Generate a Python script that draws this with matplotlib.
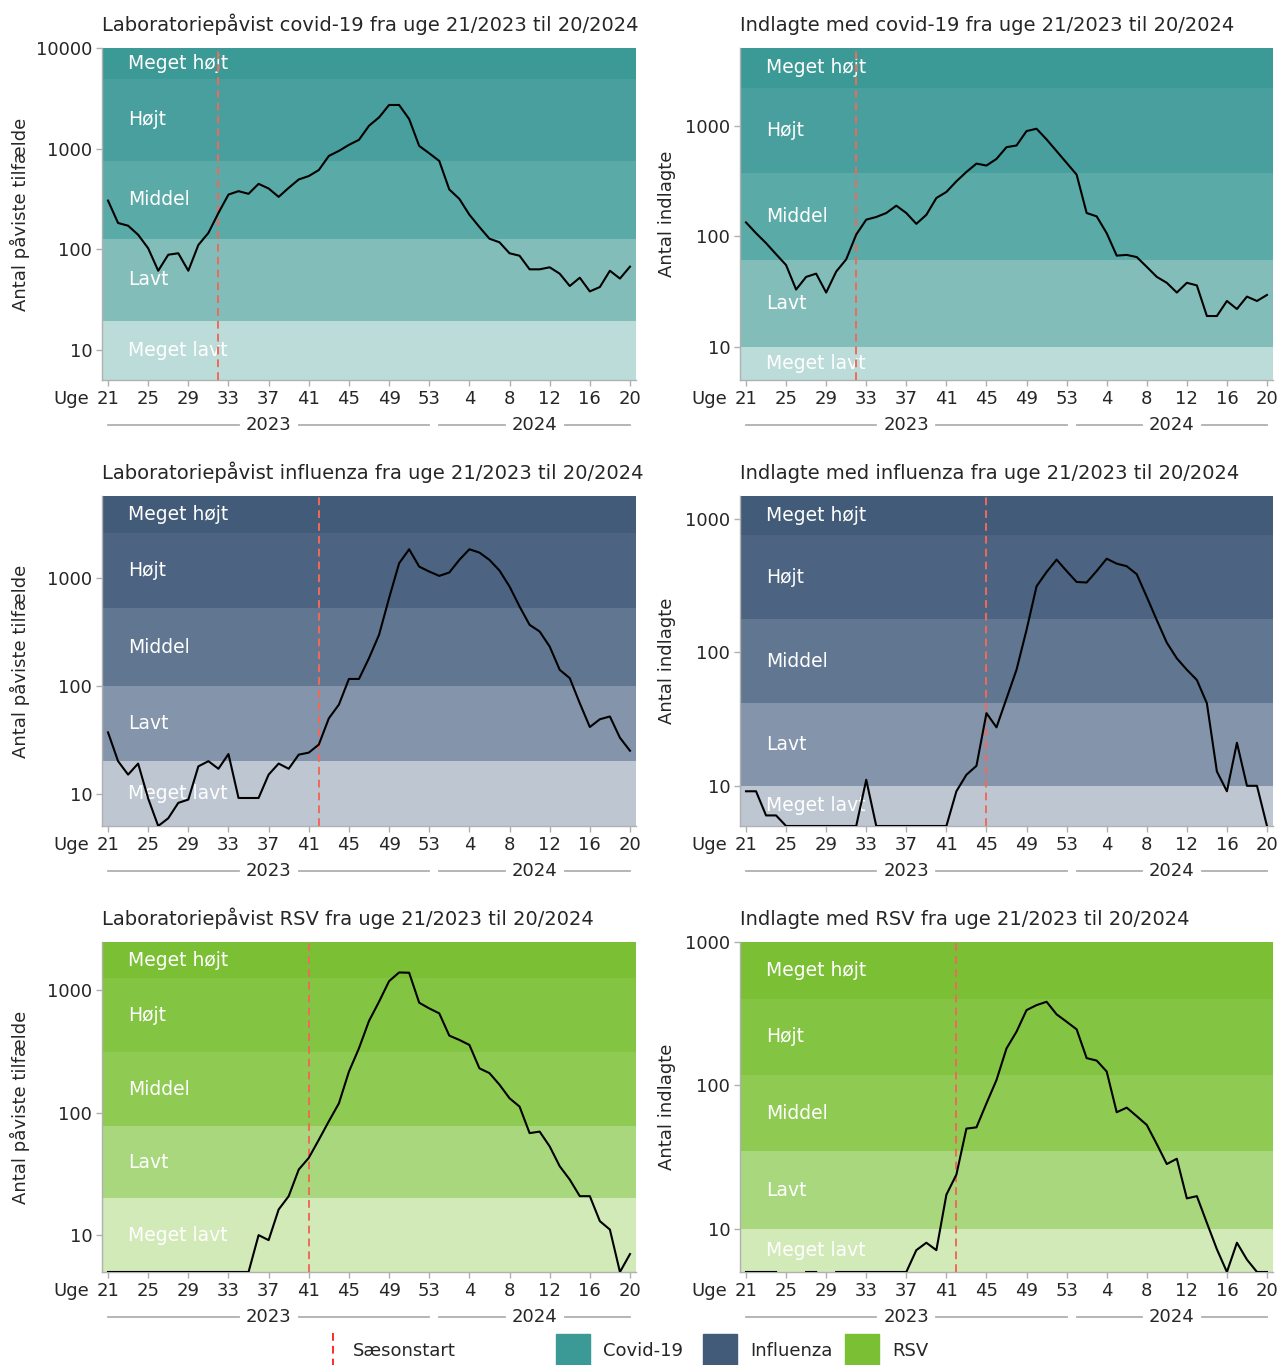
import numpy as np
import matplotlib
matplotlib.use('Agg')
import matplotlib.pyplot as plt
from matplotlib.patches import Rectangle
from matplotlib.lines import Line2D

plt.rcParams['font.family'] = ['DejaVu Sans']

W, H = 1280, 1365
nan = np.nan

# weeks 21..53 of 2023 and 1..20 of 2024
weeks = list(range(21, 54)) + list(range(1, 21))
tick_labels = ['21', '25', '29', '33', '37', '41', '45', '49', '53', '4', '8', '12', '16', '20']
level_names = ['Meget lavt', 'Lavt', 'Middel', 'Højt', 'Meget højt']

covid_lab = [304, 182, 171, 139, 102, 61, 88, 91, 61, 110, 145, 229, 349, 377, 355, 446, 401, 331,
             407, 493, 533, 612, 845, 948, 1089, 1222, 1686, 2042, 2713, 2713, 1965, 1063, 898,
             753, 392, 316, 220, 166, 127, 117, 91, 86, 63, 63, 66, 57, 43, 52, 38, 42, 61, 51, 67]
covid_adm = [134, 107, 87, 69, 55, 33, 43, 46, 31, 48, 62, 104, 142, 150, 163, 190, 163, 130, 157,
             223, 253, 316, 384, 457, 439, 504, 644, 667, 901, 946, 757, 593, 464,
             363, 163, 152, 107, 67, 68, 65, 53, 43, 38, 31, 38, 36, 19, 19, 26, 22, 28.5, 26, 29.5]
flu_lab = [37, 20, 15, 19, 9, 5, 5.9, 8.2, 8.8, 17.9, 20, 17, 23.3, 9.1, 9.1, 9.1, 15, 19, 17, 23,
           24, 28.5, 50, 67, 116, 116, 181, 298, 653, 1376, 1857, 1282, 1153,
           1051, 1130, 1480, 1857, 1730, 1480, 1178, 838, 546, 369, 320, 232, 141, 118, 69, 41.5,
           49, 52, 33, 25]
flu_adm = [9.1, 9.1, 6, 6, 5, 5, 5, 5, 5, 5, 5, 5, 11.1, 5, 5, 5, 5, 5, 5, 5, 5, 9.1, 12.1, 14.1,
           35, 27.4, 45, 74, 147, 312, 399, 494, 406,
           336, 333, 406, 502, 461, 441, 384, 260, 174, 118, 90, 74, 62, 41.5, 12.8, 9.1, 21, 10,
           10, 5]
rsv_lab = [5, 5, 5, 5, 5, 5, 5, 5, 5, 5, 5, 5, 5, 5, 5, 10, 9.1, 16.2, 20.8, 34.3, 42.7, 60, 85,
           119, 216, 335, 560, 804, 1183, 1393, 1386, 789, 709,
           646, 425, 392, 357, 230, 210, 169, 131, 112, 68, 70, 53, 36.5, 28.4, 20.8, 20.8, 13,
           11.1, 5, 7]
rsv_adm = [5, 5, 5, 5, nan, nan, 5, 5, nan, 5, 5, 5, 5, 5, 5, 5, 5, 7.1, 8, 7.1, 17.3, 23.9, 50,
           51, 75, 109, 181, 237, 335, 363, 383, 313, 278,
           246, 155, 149, 125, 65, 70, 61, 53, 39, 28.3, 30.8, 16.3, 16.9, 11, 7.2, 5, 8, 6.1, 5, 5]

# band thresholds (between levels)
covid_lab_thr = [19.5, 126, 760, 4900]
covid_adm_thr = [10, 61, 377, 2230]
flu_lab_thr = [20, 100, 527, 2650]
flu_adm_thr = [10, 42, 176, 750]
rsv_lab_thr = [20, 78, 311, 1245]
rsv_adm_thr = [10, 34.7, 118, 403]

covid_cols = ['#bcdcda', '#83bdba', '#5aaaa7', '#489f9d', '#3b9996']
flu_cols = ['#bec6d2', '#8494aa', '#617690', '#4c6481', '#425b78']
rsv_cols = ['#d2e9b8', '#a9d77d', '#8fca53', '#83c442', '#7abf34']

panels = [
    ('Laboratoriepåvist covid-19 fra uge 21/2023 til 20/2024', 'Antal påviste tilfælde',
     covid_lab, covid_lab_thr, 10000, 32, covid_cols, [10, 100, 1000, 10000]),
    ('Indlagte med covid-19 fra uge 21/2023 til 20/2024', 'Antal indlagte',
     covid_adm, covid_adm_thr, 5100, 32, covid_cols, [10, 100, 1000]),
    ('Laboratoriepåvist influenza fra uge 21/2023 til 20/2024', 'Antal påviste tilfælde',
     flu_lab, flu_lab_thr, 5800, 42, flu_cols, [10, 100, 1000]),
    ('Indlagte med influenza fra uge 21/2023 til 20/2024', 'Antal indlagte',
     flu_adm, flu_adm_thr, 1480, 45, flu_cols, [10, 100, 1000]),
    ('Laboratoriepåvist RSV fra uge 21/2023 til 20/2024', 'Antal påviste tilfælde',
     rsv_lab, rsv_lab_thr, 2470, 41, rsv_cols, [10, 100, 1000]),
    ('Indlagte med RSV fra uge 21/2023 til 20/2024', 'Antal indlagte',
     rsv_adm, rsv_adm_thr, 1000, 42, rsv_cols, [10, 100, 1000]),
]

# axes boxes in pixels: left, top, right, bottom
boxes = [(102, 48, 636, 380), (740, 48, 1273, 380),
         (102, 496, 636, 826), (740, 496, 1273, 826),
         (102, 942, 636, 1272), (740, 942, 1273, 1272)]

fig = plt.figure(figsize=(W / 100, H / 100), dpi=100)
GRAY = '#b0b0b0'
TXT = '#262626'
x = np.arange(len(weeks))
ymin = 5

for (title, ylabel, vals, thr, ytop, start, cols, yticks), (l, t, r, b) in zip(panels, boxes):
    ax = fig.add_axes([l / W, 1 - b / H, (r - l) / W, (b - t) / H])
    ax.set_yscale('log')
    ax.set_xlim(-0.6, 52.6)
    ax.set_ylim(ymin, ytop)

    edges = [ymin] + thr + [ytop]
    for k in range(5):
        ax.axhspan(edges[k], edges[k + 1], color=cols[k], lw=0, zorder=0)
        ymid = np.sqrt(edges[k] * edges[k + 1])
        ax.text(2, ymid, level_names[k], color='white', fontsize=13.5, ha='left', va='center',
                zorder=2)

    ax.axvline(weeks.index(start), color='#ef6a5a', lw=1.4, ls=(0, (4, 2.6)), zorder=3)
    ax.plot(x, vals, color='black', lw=1.5, zorder=4)

    ax.set_xticks(np.arange(0, 53, 4))
    ax.set_xticklabels(tick_labels)
    ax.set_yticks(yticks)
    ax.set_yticklabels([str(v) for v in yticks])
    ax.minorticks_off()
    ax.tick_params(axis='both', labelsize=13, colors=GRAY, labelcolor=TXT,
                   length=4, width=1, pad=3)
    for s in ['top', 'right']:
        ax.spines[s].set_visible(False)
    for s in ['left', 'bottom']:
        ax.spines[s].set_color(GRAY)
        ax.spines[s].set_linewidth(1)

    ax.set_title(title, loc='left', fontsize=14, color=TXT, pad=12)
    ax.set_ylabel(ylabel, fontsize=13, color=TXT)
    ax.yaxis.set_label_coords(-72 / (r - l) if l < 600 else -64 / (r - l), 0.5)

    hpx = b - t
    ax.text(-1.9, -19 / hpx, 'Uge', transform=ax.get_xaxis_transform(), fontsize=13,
            color=TXT, ha='right', va='center')

    # year brackets
    yy = -45 / hpx
    for year, i0, i1 in [('2023', 0, 32), ('2024', 33, 52)]:
        c = (i0 + i1) / 2
        ax.text(c, yy, year, transform=ax.get_xaxis_transform(), fontsize=13,
                color=TXT, ha='center', va='center')
        for a, bb in [(i0, c - 3.0), (c + 3.0, i1)]:
            ax.plot([a, bb], [yy, yy], transform=ax.get_xaxis_transform(), color=GRAY,
                    lw=1.3, clip_on=False)

# legend
ly = 1 - 1351 / H
fig.add_artist(Line2D([333 / W, 333 / W], [1 - 1333 / H, 1 - 1368 / H], color='#ff2a2a',
                      lw=1.4, ls=(0, (4, 2.6))))
fig.text(353 / W, ly, 'Sæsonstart', fontsize=13, color=TXT, va='center')
for x0, name, col in [(556, 'Covid-19', covid_cols[4]), (703, 'Influenza', flu_cols[4]),
                      (845, 'RSV', rsv_cols[4])]:
    fig.add_artist(Rectangle((x0 / W, 1 - 1368 / H), 34 / W, 34 / H, color=col,
                             transform=fig.transFigure))
    fig.text((x0 + 47) / W, ly, name, fontsize=13, color=TXT, va='center')

fig.savefig('out.png', dpi=100)
